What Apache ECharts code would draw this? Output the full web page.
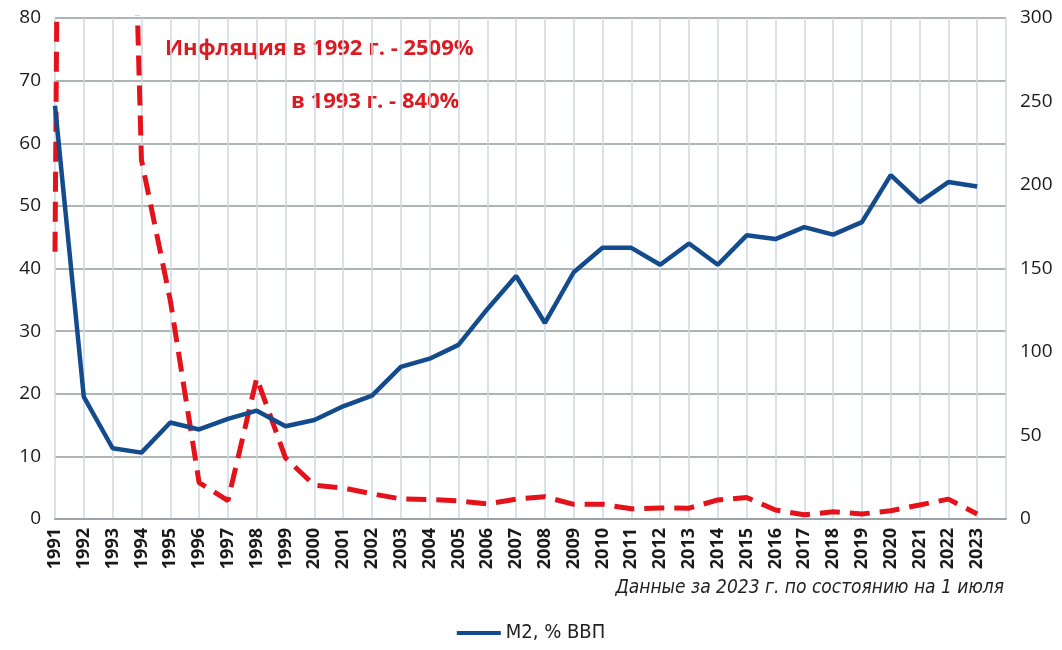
<!DOCTYPE html>
<html>
<head>
<meta charset="utf-8">
<script src="https://cdn.jsdelivr.net/npm/echarts@6/dist/echarts.min.js"></script>
<style>
  html, body { margin: 0; padding: 0; background: #fff; }
  #main { width: 1062px; height: 650px; }
</style>
</head>
<body>
<div id="main"></div>
<script>
// годы
const years = [1991, 1992, 1993, 1994, 1995, 1996, 1997, 1998, 1999, 2000,
  2001, 2002, 2003, 2004, 2005, 2006, 2007, 2008, 2009, 2010,
  2011, 2012, 2013, 2014, 2015, 2016, 2017, 2018, 2019, 2020,
  2021, 2022, 2023]
// M2, % ВВП (левая ось)
const m2 = [66, 19.5, 11.3, 10.6, 15.4, 14.3, 16, 17.3, 14.8, 15.8,
  18, 19.7, 24.3, 25.6, 27.8, 33.5, 38.8, 31.3, 39.4, 43.3,
  43.3, 40.6, 44, 40.6, 45.3, 44.7, 46.6, 45.4, 47.4, 54.9,
  50.6, 53.8, 53.1]
// инфляция, % (правая ось)
const inflation = [160, 2509, 840, 215, 131, 21.8, 11, 84.4, 36.5, 20.2,
  18.6, 15.1, 12, 11.7, 10.9, 9, 11.9, 13.3, 8.8, 8.8,
  6.1, 6.6, 6.5, 11.4, 12.9, 5.4, 2.5, 4.3, 3, 4.9,
  8.4, 11.9, 3]
const leftTicks = { min: 0, max: 80, interval: 10 }
const rightTicks = { min: 0, max: 300, interval: 50 }

const chart = echarts.init(document.getElementById('main'))

const labelFont = '"Open Sans", "DejaVu Sans", sans-serif'

const option = {
  backgroundColor: '#fff',
  animation: false,
  grid: { left: 55, right: 56, top: 18, bottom: 131 },
  legend: {
    data: ['M2, % ВВП'],
    bottom: 2,
    left: 'center',
    itemWidth: 44,
    itemHeight: 4,
    itemGap: 4,
    icon: 'rect',
    textStyle: { fontSize: 20, color: '#222', fontFamily: '"DejaVu Sans Condensed", "Open Sans", sans-serif' },
  },
  xAxis: {
    type: 'value',
    min: 1991,
    max: 2024,
    interval: 1,
    axisLine: { lineStyle: { color: '#9aa4a8', width: 2 } },
    axisTick: { show: false },
    axisLabel: {
      rotate: 90,
      fontSize: 18,
      fontWeight: 'bold',
      color: '#1a1a1a',
      fontFamily: labelFont,
      margin: 9,
      formatter: v => (v <= 2023 ? String(v) : ''),
    },
    splitLine: { show: true, lineStyle: { color: '#cdd9e0', width: 1.5 } },
  },
  yAxis: [
    {
      type: 'value',
      ...leftTicks,
      position: 'left',
      axisLine: { show: false },
      axisTick: { show: false },
      axisLabel: { fontSize: 19, color: '#1a1a1a', fontFamily: labelFont, margin: 14 },
      splitLine: { lineStyle: { color: '#959d9d', width: 1.5 } },
    },
    {
      type: 'value',
      ...rightTicks,
      position: 'right',
      axisLine: { show: false },
      axisTick: { show: false },
      axisLabel: { fontSize: 19, color: '#1a1a1a', fontFamily: labelFont, margin: 14 },
      splitLine: { show: false },
    },
  ],
  series: [
    {
      name: 'Инфляция',
      type: 'line',
      yAxisIndex: 1,
      data: years.map((y, i) => [y, inflation[i]]),
      symbol: 'none',
      clip: true,
      z: 3,
      lineStyle: { color: '#e3121b', width: 5, type: [20, 10] },
    },
    {
      name: 'M2, % ВВП',
      type: 'line',
      yAxisIndex: 0,
      data: years.map((y, i) => [y, m2[i]]),
      symbol: 'none',
      z: 4,
      itemStyle: { color: '#134b8c' },
      lineStyle: { color: '#134b8c', width: 4.5 },
    },
  ],
  graphic: [
    {
      type: 'text',
      left: 165,
      top: 38,
      style: {
        text: 'Инфляция в 1992 г. - 2509%',
        fill: '#dc1a22',
        font: 'bold 22px "Open Sans", sans-serif',
      },
    },
    {
      type: 'text',
      left: 291,
      top: 91,
      style: {
        text: 'в 1993 г. - 840%',
        fill: '#dc1a22',
        font: 'bold 22px "Open Sans", sans-serif',
      },
    },
    {
      type: 'text',
      right: 58,
      top: 579,
      style: {
        text: 'Данные за 2023 г. по состоянию на 1 июля',
        fill: '#222',
        font: 'italic 19px "DejaVu Sans Condensed", "Open Sans", sans-serif',
      },
    },
  ],
}

chart.setOption(option)
</script>
</body>
</html>
